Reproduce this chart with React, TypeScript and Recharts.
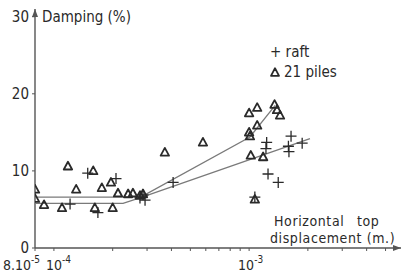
import React from 'react'
import { ScatterChart, Scatter, XAxis, YAxis, ReferenceDot } from 'recharts'

// damping (%) against horizontal top displacement (m)
const raft = [
  { x: 1.21e-4, y: 5.7 },
  { x: 1.49e-4, y: 9.7 },
  { x: 1.68e-4, y: 4.6 },
  { x: 2.08e-4, y: 9.0 },
  { x: 2.76e-4, y: 6.5 },
  { x: 2.86e-4, y: 6.9 },
  { x: 2.93e-4, y: 6.2 },
  { x: 4.08e-4, y: 8.5 },
  { x: 1.07e-3, y: 6.6 },
  { x: 1.25e-3, y: 9.6 },
  { x: 1.41e-3, y: 8.5 },
  { x: 1.23e-3, y: 13.7 },
  { x: 1.22e-3, y: 12.9 },
  { x: 1.59e-3, y: 13.2 },
  { x: 1.6e-3, y: 12.5 },
  { x: 1.64e-3, y: 14.5 },
  { x: 1.87e-3, y: 13.6 },
]

const piles = [
  { x: 8.0e-5, y: 7.6 },
  { x: 8.0e-5, y: 6.4 },
  { x: 8.9e-5, y: 5.6 },
  { x: 1.1e-4, y: 5.2 },
  { x: 1.18e-4, y: 10.6 },
  { x: 1.3e-4, y: 7.6 },
  { x: 1.59e-4, y: 10.0 },
  { x: 1.62e-4, y: 5.2 },
  { x: 1.76e-4, y: 7.8 },
  { x: 1.96e-4, y: 8.5 },
  { x: 2.0e-4, y: 5.2 },
  { x: 2.13e-4, y: 7.1 },
  { x: 2.4e-4, y: 7.0 },
  { x: 2.54e-4, y: 7.1 },
  { x: 2.76e-4, y: 6.8 },
  { x: 2.86e-4, y: 7.0 },
  { x: 3.7e-4, y: 12.4 },
  { x: 5.8e-4, y: 13.7 },
  { x: 1.0e-3, y: 15.0 },
  { x: 1.01e-3, y: 14.5 },
  { x: 1.1e-3, y: 15.9 },
  { x: 1.0e-3, y: 17.5 },
  { x: 1.1e-3, y: 18.2 },
  { x: 1.35e-3, y: 18.6 },
  { x: 1.39e-3, y: 17.9 },
  { x: 1.44e-3, y: 17.2 },
  { x: 1.02e-3, y: 12.0 },
  { x: 1.18e-3, y: 11.8 },
  { x: 1.07e-3, y: 6.3 },
]

// hand drawn trend lines
const raftFit = [
  { x: 8.0e-5, y: 5.8 },
  { x: 2.26e-4, y: 5.8 },
  { x: 2.83e-4, y: 6.6 },
  { x: 2.05e-3, y: 14.2 },
]

const pilesFit = [
  { x: 8.0e-5, y: 6.6 },
  { x: 2.45e-4, y: 6.6 },
  { x: 2.83e-4, y: 6.7 },
  { x: 1.01e-3, y: 14.4 },
  { x: 1.36e-3, y: 18.5 },
]

const xTicks = [8e-5, 1e-4, 2e-4, 3e-4, 4e-4, 5e-4, 6e-4, 7e-4, 8e-4, 9e-4, 1e-3, 2e-3, 3e-3, 4e-3, 5e-3]
const xLabels: Record<string, { base: string; exp: string; dx: number }> = {
  '0.00008': { base: '8.10', exp: '-5', dx: -32 },
  '0.0001': { base: '10', exp: '-4', dx: -8 },
  '0.001': { base: '10', exp: '-3', dx: -11 },
}
const yTicks = [0, 10, 20, 30]

const FONT = '"DejaVu Sans Condensed", "Liberation Sans Narrow", "DejaVu Sans", sans-serif'
const INK = '#2a2a2a'
const AXIS = '#555'
const FIT = '#7a7a7a'

function Cross({ cx, cy }: any) {
  if (cx == null || cy == null) return <g />
  return (
    <path d={`M${cx - 5.5},${cy}H${cx + 5.5}M${cx},${cy - 5.5}V${cy + 5.5}`} stroke={INK} strokeWidth={1.3} fill="none" />
  )
}

function Tri({ cx, cy }: any) {
  if (cx == null || cy == null) return <g />
  return (
    <path d={`M${cx},${cy - 4.5}L${cx + 4.2},${cy + 3.2}L${cx - 4.2},${cy + 3.2}Z`} stroke={INK} strokeWidth={1.8} fill="none" strokeLinejoin="round" />
  )
}

const Nothing = () => <g />

function XTick({ x, y, payload }: any) {
  const lab = xLabels[String(payload.value)]
  if (!lab) return <g />
  return (
    <text x={x + lab.dx} y={y + 17} fontFamily={FONT} fontSize={14} fill={INK} textAnchor="start">
      {lab.base}
      <tspan dy={-7} fontSize={10}>{lab.exp}</tspan>
    </text>
  )
}

function YTick({ x, y, payload }: any) {
  return (
    <text x={x - 1} y={y} dy="0.35em" fontFamily={FONT} fontSize={15} fill={INK} textAnchor="end">
      {payload.value}
    </text>
  )
}

function ArrowRight({ cx, cy }: any) {
  return <path d={`M${cx - 8},${cy - 3}L${cx},${cy}L${cx - 8},${cy + 3}Z`} fill={AXIS} />
}

function ArrowUp({ cx, cy }: any) {
  return <path d={`M${cx - 3},${cy + 8}L${cx},${cy}L${cx + 3},${cy + 8}Z`} fill={AXIS} />
}

const textStyle: React.CSSProperties = {
  position: 'absolute',
  fontFamily: FONT,
  fontSize: 15,
  color: INK,
  whiteSpace: 'nowrap',
  lineHeight: '14px',
}

export default function App() {
  return (
    <div style={{ position: 'fixed', left: 0, top: 0, width: 407, height: 275, background: '#fff' }}>
      <ScatterChart width={407} height={275} margin={{ top: 9, right: 6, bottom: 26, left: 34 }}>
        <XAxis
          type="number"
          dataKey="x"
          scale="log"
          domain={[8e-5, 6e-3]}
          ticks={xTicks}
          interval={0}
          allowDataOverflow
          height={1}
          tick={<XTick />}
          tickSize={3}
          axisLine={{ stroke: AXIS, strokeWidth: 1.4 }}
          tickLine={{ stroke: AXIS }}
        />
        <YAxis
          type="number"
          dataKey="y"
          domain={[0, 31]}
          ticks={yTicks}
          interval={0}
          width={1}
          tick={<YTick />}
          tickSize={3}
          axisLine={{ stroke: AXIS, strokeWidth: 1.4 }}
          tickLine={{ stroke: AXIS }}
        />
        <Scatter data={pilesFit} line={{ stroke: FIT, strokeWidth: 1.3 }} shape={<Nothing />} isAnimationActive={false} />
        <Scatter data={raftFit} line={{ stroke: FIT, strokeWidth: 1.3 }} shape={<Nothing />} isAnimationActive={false} />
        <Scatter data={piles} shape={<Tri />} isAnimationActive={false} />
        <Scatter data={raft} shape={<Cross />} isAnimationActive={false} />
        <ReferenceDot x={6e-3} y={0} ifOverflow="visible" shape={<ArrowRight />} />
        <ReferenceDot x={8e-5} y={31} ifOverflow="visible" shape={<ArrowUp />} />
      </ScatterChart>

      <div style={{ ...textStyle, left: 42, top: 10 }}>Damping (%)</div>

      <div style={{ ...textStyle, left: 270, top: 45 }}>+ raft</div>
      <div style={{ ...textStyle, left: 270, top: 65 }}>
        <svg width={10} height={10} style={{ marginRight: 4, verticalAlign: 'baseline' }}>
          <path d="M5,1.2L9,8.8L1,8.8Z" stroke={INK} strokeWidth={1.8} fill="none" strokeLinejoin="round" />
        </svg>
        21 piles
      </div>

      <div style={{ ...textStyle, fontSize: 14, letterSpacing: 0.6, left: 274, top: 214, wordSpacing: 8 }}>Horizontal top</div>
      <div style={{ ...textStyle, fontSize: 14, letterSpacing: 0.6, left: 270, top: 231 }}>displacement (m.)</div>
    </div>
  )
}
